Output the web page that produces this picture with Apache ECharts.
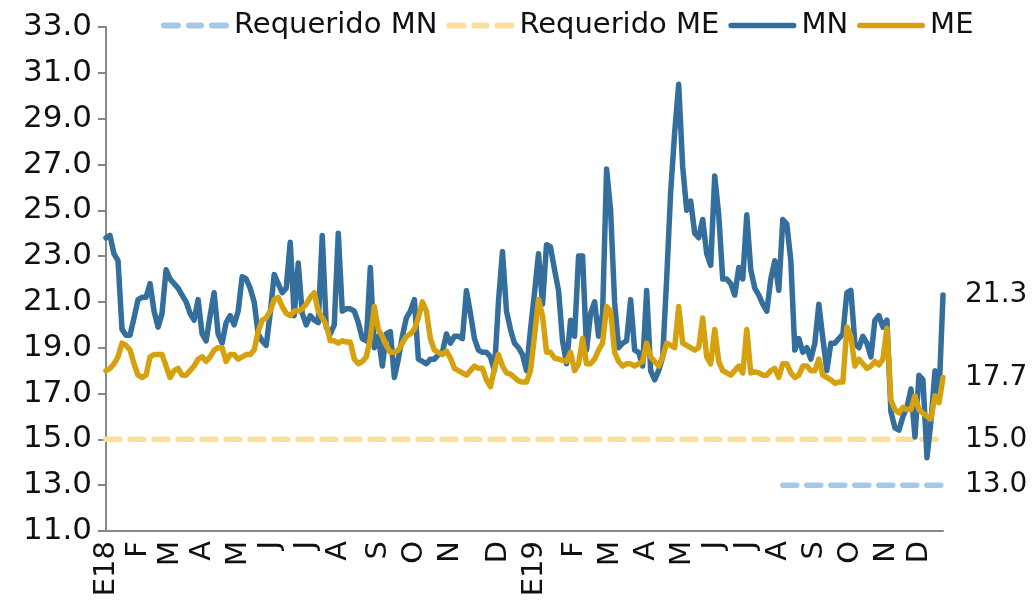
<!DOCTYPE html>
<html>
<head>
<meta charset="utf-8">
<script src="https://cdn.jsdelivr.net/npm/echarts@6/dist/echarts.min.js"></script>
<style>
  html, body {margin: 0; padding: 0; background: #fff;}
  #chart {width: 1036px; height: 600px;}
</style>
</head>
<body>
<div id="chart"></div>
<script>
// month tick labels and the day index where each month starts
let monthLabels = ['E18', 'F', 'M', 'A', 'M', 'J', 'J', 'A', 'S', 'O', 'N', 'D',
  'E19', 'F', 'M', 'A', 'M', 'J', 'J', 'A', 'S', 'O', 'N', 'D'];
let monthStart = [0, 8, 16, 24, 33, 41, 50, 58, 68, 77, 86, 98,
  107, 117, 126, 135, 144, 152, 160, 168, 177, 186, 195, 203];

// ratio MN (%)
let mn = [
  23.8, 23.9, 23.1, 22.8, 19.8, 19.55, 19.55, 20.3, 21.1, 21.2,
  21.2, 21.8, 20.6, 19.9, 20.5, 22.4, 22.0, 21.8, 21.6, 21.3,
  21.0, 20.5, 20.2, 21.1, 19.6, 19.3, 20.4, 21.4, 19.6, 19.2,
  20.1, 20.4, 20.0, 20.6, 22.1, 22.0, 21.6, 21.0, 19.6, 19.3,
  19.1, 20.5, 22.2, 21.8, 21.4, 21.6, 23.6, 20.4, 22.7, 20.5,
  20.0, 20.4, 20.2, 20.1, 23.9, 19.9, 19.6, 20.0, 24.0, 20.6,
  20.7, 20.7, 20.6, 20.1, 19.4, 19.3, 22.5, 19.0, 19.5, 18.2,
  19.6, 19.7, 17.7, 18.5, 19.5, 20.3, 20.6, 21.1, 18.5, 18.4,
  18.3, 18.5, 18.5, 18.7, 18.8, 19.6, 19.2, 19.5, 19.5, 19.4,
  21.5, 20.5, 19.4, 18.9, 18.8, 18.8, 18.6, 18.0, 21.0, 23.2,
  20.6, 19.8, 19.2, 19.0, 18.7, 18.0, 19.8, 21.4, 23.1, 20.9,
  23.5, 23.4, 22.4, 21.5, 19.3, 18.3, 20.2, 19.5, 23.0, 23.0,
  18.9, 20.5, 21.0, 19.5, 20.5, 26.8, 25.0, 21.0, 19.0, 19.2,
  19.3, 21.1, 18.9, 18.8, 18.2, 21.5, 18.0, 17.6, 18.0, 18.6,
  22.0, 25.8, 28.4, 30.5, 26.9, 25.0, 25.4, 24.0, 23.8, 24.6,
  23.1, 22.6, 26.5, 24.8, 22.0, 22.0, 21.8, 21.3, 22.5, 22.0,
  24.8, 22.4, 21.6, 21.3, 20.9, 20.6, 22.0, 22.8, 21.5, 24.6,
  24.4, 22.8, 18.9, 19.4, 18.8, 19.0, 18.5, 19.2, 20.9, 19.4,
  18.0, 19.2, 19.2, 19.4, 19.6, 21.4, 21.5, 19.2, 19.0, 19.5,
  19.2, 18.6, 20.2, 20.4, 19.9, 20.2, 16.2, 15.5, 15.4, 16.0,
  16.4, 17.2, 15.1, 17.8, 17.6, 14.2, 15.8, 18.0, 16.9, 21.3
];

// ratio ME (%)
let me = [
  18.0, 18.1, 18.3, 18.6, 19.2, 19.1, 18.9, 18.3, 17.8, 17.7,
  17.8, 18.6, 18.7, 18.7, 18.7, 18.2, 17.7, 18.0, 18.1, 17.8,
  17.8, 18.0, 18.2, 18.5, 18.6, 18.4, 18.6, 18.9, 19.0, 19.0,
  18.4, 18.7, 18.7, 18.5, 18.6, 18.7, 18.7, 18.9, 19.7, 20.2,
  20.3, 20.6, 21.1, 21.2, 20.8, 20.5, 20.4, 20.6, 20.6, 20.7,
  20.9, 21.2, 21.4, 20.6, 20.3, 20.0, 19.3, 19.3, 19.2, 19.3,
  19.25, 19.25, 18.5, 18.3, 18.4, 18.6, 19.4, 20.8, 19.8, 19.5,
  19.1, 18.8, 18.8, 18.9, 19.2, 19.5, 19.6, 19.8, 20.3, 21.0,
  20.6, 19.4, 18.9, 18.8, 18.7, 18.85, 18.55, 18.1, 18.0, 17.9,
  17.8, 18.0, 18.2, 18.1, 18.1, 17.6, 17.3, 18.1, 18.7, 18.2,
  17.9, 17.85, 17.7, 17.55, 17.5, 17.5, 18.0, 19.5, 21.1, 20.4,
  18.8, 18.8, 18.55, 18.5, 18.45, 18.4, 18.8, 18.0, 18.3, 19.4,
  18.3, 18.3, 18.5, 18.9, 19.2, 20.8, 20.6, 18.8, 18.4, 18.2,
  18.3, 18.3, 18.2, 18.3, 18.4, 19.2, 18.6, 18.4, 18.2, 18.6,
  19.2, 19.1, 19.0, 20.8, 19.2, 19.1, 19.0, 18.9, 19.0, 20.3,
  18.6, 18.3, 19.8, 18.4, 18.0, 17.9, 17.8, 18.0, 18.2, 17.9,
  19.8, 17.9, 17.95, 17.9, 17.8, 17.8, 18.0, 18.1, 17.7, 18.3,
  18.3, 17.9, 17.7, 17.8, 18.2, 18.2, 18.0, 18.0, 18.5, 17.8,
  17.7, 17.6, 17.45, 17.5, 17.5, 19.9, 19.5, 18.2, 18.5, 18.3,
  18.1, 18.2, 18.4, 18.25, 18.5, 19.85, 16.7, 16.3, 16.15, 16.4,
  16.3, 16.3, 16.9, 16.3, 16.15, 16.0, 15.9, 16.9, 16.6, 17.7
];

// required levels
let reqME = 15.0;
let reqMN = 13.0;
let reqMNStart = 169;

let days = mn.map((d, i) => String(i));
let reqMEData = days.map(() => reqME);
let reqMNData = days.map((d, i) => (i >= reqMNStart ? reqMN : null));

let Colors = {mn: '#336E9C', me: '#D6A10F', reqMN: '#A6C8E3', reqME: '#F9DF9C'};
let font = 'DejaVu Sans';

// legend icons: three rounded dashes / one solid bar
let dashIcon = 'path://M3,0h14a3,3 0 0 1 0,6h-14a3,3 0 0 1 0,-6z' +
  'M28,0h12a3,3 0 0 1 0,6h-12a3,3 0 0 1 0,-6z' +
  'M51,0h14a3,3 0 0 1 0,6h-14a3,3 0 0 1 0,-6z';
let solidIcon = 'path://M3,0h70a3,3 0 0 1 0,6h-70a3,3 0 0 1 0,-6z';

let endLabel = {
  show: true, distance: 22, color: '#111', fontSize: 28, fontFamily: font,
  formatter: p => Number(p.value).toFixed(1)
};

function lineSeries(name, data, color, dashed) {
  return {
    name: name, type: 'line', data: data, symbol: 'none', showSymbol: false,
    connectNulls: false, animation: false,
    lineStyle: {
      color: color, width: 5.5, cap: 'round', join: 'round',
      type: dashed ? [14, 10] : 'solid'
    },
    itemStyle: {color: color},
    endLabel: endLabel
  };
}

let chart = echarts.init(document.getElementById('chart'));
chart.setOption({
  animation: false,
  textStyle: {fontFamily: font},
  grid: {left: 106, right: 93, top: 27, bottom: 69, containLabel: false},
  legend: {
    top: 6, left: 156, itemGap: 9, itemHeight: 6,
    textStyle: {fontSize: 29, color: '#111', fontFamily: font},
    data: [
      {name: 'Requerido MN', icon: dashIcon, itemWidth: 68},
      {name: 'Requerido ME', icon: dashIcon, itemWidth: 68},
      {name: 'MN', icon: solidIcon, itemWidth: 76},
      {name: 'ME', icon: solidIcon, itemWidth: 76}
    ],
    itemWidth: 68
  },
  xAxis: {
    type: 'category', data: days, boundaryGap: false,
    axisLine: {lineStyle: {color: '#888', width: 2}},
    axisTick: {show: false},
    axisLabel: {
      rotate: 90, margin: 10, fontSize: 29, color: '#111', fontFamily: font,
      interval: (i) => monthStart.indexOf(i) >= 0,
      formatter: (v, i) => {
        let k = monthStart.indexOf(i);
        return k >= 0 ? monthLabels[k] : '';
      }
    },
    splitLine: {show: false}
  },
  yAxis: {
    type: 'value', min: 11, max: 33, interval: 2,
    axisLine: {show: true, lineStyle: {color: '#888', width: 2}},
    axisTick: {show: true, length: 8, lineStyle: {color: '#888', width: 2}},
    axisLabel: {
      fontSize: 31, color: '#111', margin: 14, fontFamily: font,
      formatter: v => v.toFixed(1)
    },
    splitLine: {show: false}
  },
  series: [
    lineSeries('Requerido MN', reqMNData, Colors.reqMN, true),
    lineSeries('Requerido ME', reqMEData, Colors.reqME, true),
    lineSeries('MN', mn, Colors.mn, false),
    lineSeries('ME', me, Colors.me, false)
  ]
});
</script>
</body>
</html>
